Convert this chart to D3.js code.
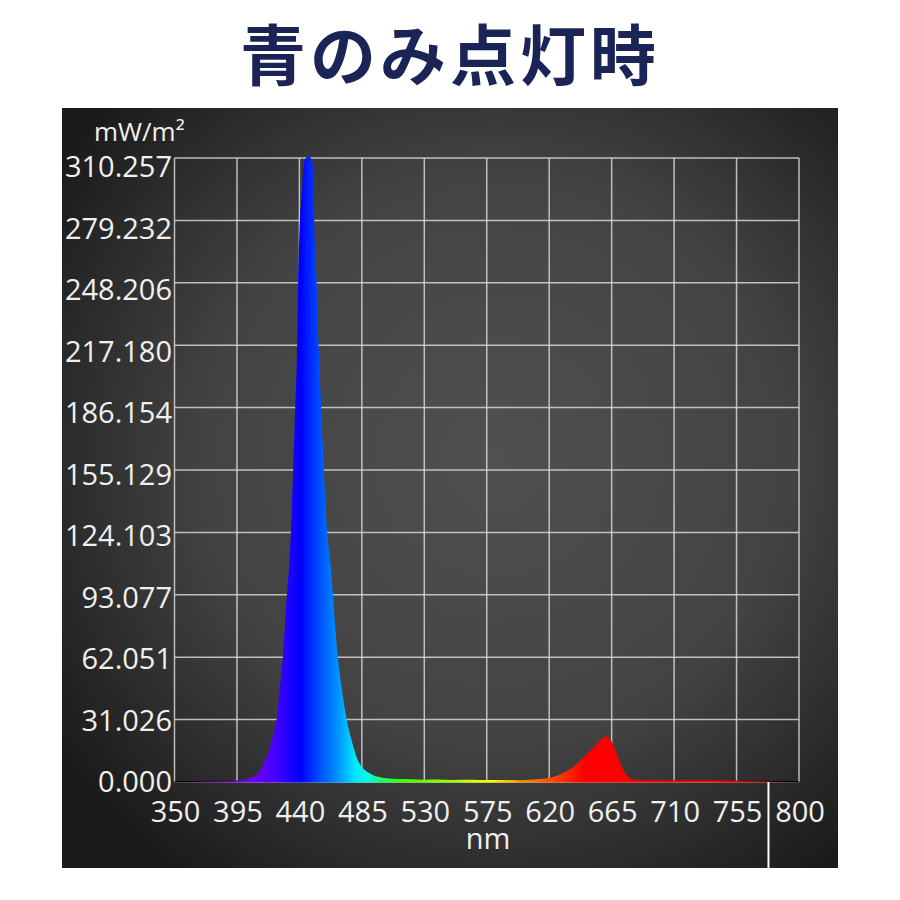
<!DOCTYPE html>
<html>
<head>
<meta charset="utf-8">
<script src="https://cdn.jsdelivr.net/npm/d3@7"></script>
<style>
  html, body { margin: 0; padding: 0; background: #fff; }
  svg { display: block; }
</style>
</head>
<body>
<div id="chart"></div>
<script>
// spectrum data (nm -> mW/m²)
const wavelengths = [350, 360, 370, 380, 390, 399.3, 405, 410.3, 413, 415.2, 418, 420, 422, 423.6, 426, 428.1, 431, 432.7, 433.9, 435.5, 437, 438.4, 439.1, 440.4, 442, 442.7, 444, 446.5, 449, 449.9, 450.4, 450.7, 452.4, 453.8, 455.7, 457.6, 460, 462.5, 464.1, 467.7, 470.4, 474, 477.6, 482.3, 486, 490.8, 495, 500, 505, 510, 520, 530, 540, 550, 560, 570, 580, 590, 598, 605, 612, 620, 628, 634.8, 640, 644.4, 648, 651.5, 655, 657.6, 660.7, 664, 666, 668.4, 671, 673.2, 676, 678, 682.8, 690, 700, 720, 740, 760, 780, 790, 800];
const irradiance  = [0.3, 0.3, 0.35, 0.4, 0.5, 0.8, 1.8, 4, 7, 10.3, 15, 20.5, 25.5, 31, 46.7, 62, 93, 108, 124, 155, 186, 217, 248, 279, 294, 302.8, 309, 311, 309, 302.8, 294, 279, 248, 217, 186, 155, 124, 108, 93, 62, 46.7, 31, 20.5, 10.3, 6.5, 4, 2.6, 1.9, 1.5, 1.2, 1.1, 0.9, 1.0, 0.8, 0.9, 0.8, 0.7, 0.7, 0.6, 0.9, 1.3, 1.8, 3.5, 6, 8.8, 11.8, 14.3, 16.8, 19.2, 21.2, 22.4, 20.9, 18.5, 14.3, 9.5, 6, 3.2, 1.8, 0.8, 0.6, 0.5, 0.5, 0.45, 0.4, 0.35, 0.3, 0.3];

const xTicks = [350, 395, 440, 485, 530, 575, 620, 665, 710, 755, 800];
const yTicks = [0, 31.026, 62.051, 93.077, 124.103, 155.129, 186.154, 217.180, 248.206, 279.232, 310.257];
const yTickLabels = ['0.000', '31.026', '62.051', '93.077', '124.103', '155.129', '186.154', '217.180', '248.206', '279.232', '310.257'];

// visible spectrum colours by wavelength
const specNm = [350, 370, 390, 405, 420, 441, 455, 470, 480, 490, 500, 515, 550, 578, 600, 620, 645, 740, 770, 790];
const specColor = ['#000000', '#2a0038', '#5a0090', '#7000ff', '#5000ff', '#0000ff', '#0050ff', '#00a0ff', '#00e6ff', '#00ffe0', '#20ff60', '#40ff00', '#a0ff00', '#ffff00', '#ff9000', '#ff5000', '#ff0000', '#ff0000', '#900000', '#000000'];

const title = '青のみ点灯時';
const yUnit = 'mW/m²';
const xUnit = 'nm';

const W = 900, H = 900;
const svg = d3.select('#chart').append('svg').attr('width', W).attr('height', H);
const defs = svg.append('defs');

const panel = { x: 62, y: 108, w: 776, h: 760 };

const bg = defs.append('radialGradient').attr('id', 'bg')
  .attr('cx', '56%').attr('cy', '46%').attr('r', '68%');
bg.append('stop').attr('offset', '0%').attr('stop-color', '#505050');
bg.append('stop').attr('offset', '55%').attr('stop-color', '#434343');
bg.append('stop').attr('offset', '100%').attr('stop-color', '#1b1b1b');

svg.append('rect')
  .attr('x', panel.x).attr('y', panel.y)
  .attr('width', panel.w).attr('height', panel.h)
  .attr('fill', 'url(#bg)');

svg.append('text')
  .attr('x', 450).attr('y', 80)
  .attr('text-anchor', 'middle')
  .attr('font-family', '"Noto Sans CJK JP", sans-serif')
  .attr('font-weight', 700)
  .attr('font-size', 66)
  .attr('letter-spacing', 4)
  .attr('fill', '#1b2456')
  .text(title);

const x = d3.scaleLinear().domain([350, 800]).range([174.5, 799]);
const y = d3.scaleLinear().domain([0, 310.257]).range([782, 158]);
// the tick labels sit a bit lower than their grid lines in the original
const yLab = d3.scaleLinear().domain([0, 310.257]).range([782, 167]);

const grid = svg.append('g').attr('stroke', '#d6d6d6').attr('stroke-opacity', 0.85).attr('stroke-width', 1.5);
grid.selectAll('line.h').data(yTicks).join('line').attr('class', 'h')
  .attr('x1', x(350)).attr('x2', x(800))
  .attr('y1', d => y(d)).attr('y2', d => y(d));
grid.selectAll('line.v').data(xTicks).join('line').attr('class', 'v')
  .attr('x1', d => x(d)).attr('x2', d => x(d))
  .attr('y1', y(310.257)).attr('y2', y(0));

const sg = defs.append('linearGradient').attr('id', 'spec')
  .attr('gradientUnits', 'userSpaceOnUse')
  .attr('x1', x(350)).attr('x2', x(800)).attr('y1', 0).attr('y2', 0);
sg.selectAll('stop').data(specNm).join('stop')
  .attr('offset', d => (d - 350) / 450)
  .attr('stop-color', (d, i) => specColor[i]);

const pts = wavelengths.map((w, i) => [w, irradiance[i]]);
const area = d3.area()
  .x(d => x(d[0]))
  .y0(y(0) + 0.5)
  .y1(d => y(d[1]) - 0.5)
  .curve(d3.curveMonotoneX);

svg.append('path').datum(pts)
  .attr('d', area)
  .attr('fill', 'url(#spec)');

// white marker line below the axis
svg.append('line')
  .attr('x1', x(778)).attr('x2', x(778))
  .attr('y1', y(0)).attr('y2', panel.y + panel.h)
  .attr('stroke', '#ffffff').attr('stroke-width', 2);

const font = '"Open Sans", sans-serif';
const labelColor = '#f0f0f0';

svg.append('g').selectAll('text').data(yTicks).join('text')
  .attr('x', 172)
  .attr('y', d => yLab(d))
  .attr('dy', '0.35em')
  .attr('text-anchor', 'end')
  .attr('font-family', font).attr('font-size', 29)
  .attr('fill', labelColor)
  .text((d, i) => yTickLabels[i]);

svg.append('g').selectAll('text').data(xTicks).join('text')
  .attr('x', d => x(d) + 1)
  .attr('y', 822)
  .attr('text-anchor', 'middle')
  .attr('font-family', font).attr('font-size', 29)
  .attr('fill', labelColor)
  .text(d => d);

svg.append('text')
  .attr('x', 488).attr('y', 849)
  .attr('text-anchor', 'middle')
  .attr('font-family', font).attr('font-size', 29)
  .attr('fill', labelColor)
  .text(xUnit);

svg.append('text')
  .attr('x', 94).attr('y', 141)
  .attr('font-family', font).attr('font-size', 26)
  .attr('fill', labelColor)
  .text(yUnit);
</script>
</body>
</html>
